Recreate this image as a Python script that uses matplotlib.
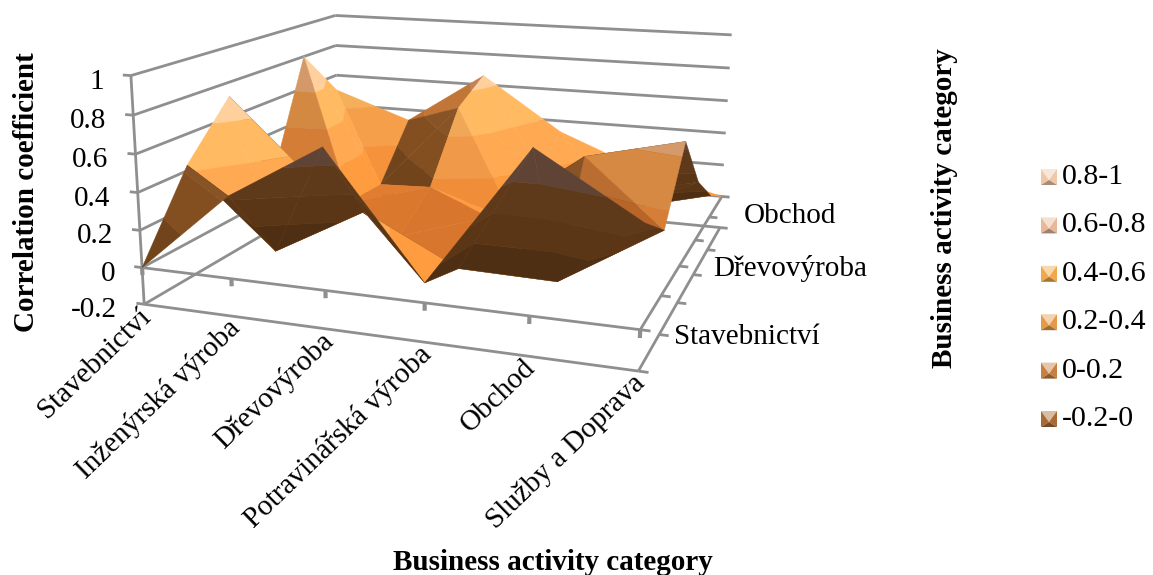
import numpy as np
import matplotlib
matplotlib.use("Agg")
import matplotlib.pyplot as plt
from matplotlib.colors import to_rgb
from matplotlib.patches import Polygon
from mpl_toolkits.mplot3d import proj3d
from mpl_toolkits.mplot3d.art3d import Poly3DCollection

plt.rcParams["font.family"] = ["Liberation Serif", "DejaVu Serif"]

categories = ["Stavebnictví", "Inženýrská výroba", "Dřevovýroba",
              "Potravinářská výroba", "Obchod", "Služby a Doprava"]
depth_labels = {0: "Stavebnictví", 2: "Dřevovýroba", 4: "Obchod"}

# one row per series, same order as categories
stavebnictvi = [0.00, 0.43, 0.72, 0.10, 0.80, 0.50]
inzenyrska   = [0.43, 0.00, 0.27, 0.02, 0.01, 0.33]
drevovyroba  = [0.72, 0.27, 0.00, 0.16, 0.54, 0.66]
potravinarska = [0.10, 0.02, 0.16, 0.00, 0.20, 0.33]
obchod       = [0.80, 0.01, 0.54, 0.20, 0.00, 0.13]
sluzby       = [0.50, 0.33, 0.66, 0.33, 0.13, 0.00]

z_ticks = [-0.2, 0, 0.2, 0.4, 0.6, 0.8, 1]
z_tick_labels = ["-0.2", "0", "0.2", "0.4", "0.6", "0.8", "1"]
band_labels = ["-0.2-0", "0-0.2", "0.2-0.4", "0.4-0.6", "0.6-0.8", "0.8-1"]

BAND_TOP   = ["#F89038", "#FF9C40", "#FFAA52", "#FFBA62", "#FFD09C", "#FFD8B0"]
BAND_UNDER = ["#4A2E14", "#4E2F13", "#5A3616", "#5E3A1A", "#5F4436", "#65493A"]
LEGEND_COLORS = ["#A86A34", "#C88040", "#E49A48", "#F0A848", "#E8B898", "#F0C8A8"]
GRID = "#8F8F8F"

# camera, in pixel-like units
FIG_W, FIG_H = 1153, 575
FOCAL_PX = 1342.5
CENTER_PX = (424, 203)
ELEV, AZIM, ROLL = 15.25, -69.57, 0
CAM_DIST = 1454
UNIT_X, UNIT_Y, UNIT_Z = 100.5, 96.2, 194.0
XLIM = (-0.608, 5.0)
YLIM = (-0.526, 5.0)
ZLIM = (-0.66, 1.0)
LIGHT = np.array([0.7, 0.1, 0.7])
LIGHT = LIGHT / np.linalg.norm(LIGHT)


def clip_band(tri, lo, hi):
    # cut a polygon down to the part between two heights
    poly = list(tri)
    for level, sign in ((lo, 1), (hi, -1)):
        out = []
        for a, b in zip(poly, poly[1:] + poly[:1]):
            da, db = sign * (a[2] - level), sign * (b[2] - level)
            if da >= 0:
                out.append(a)
            if da * db < 0:
                out.append(a + (b - a) * da / (da - db))
        poly = out
        if not poly:
            return []
    return poly


def facet_color(band, lit, underside):
    if underside:
        return to_rgb(BAND_UNDER[band])
    if lit < 0.06:
        # faces turned away from the light stay brown
        return tuple(min(1, c * 1.45) for c in to_rgb(BAND_UNDER[band]))
    k = min(1, 0.55 + 0.45 * (lit / 0.8) ** 1.2)
    r, g, b = to_rgb(BAND_TOP[band])
    return (min(1, r * k ** 0.6), g * k, b * k ** 1.3)


def build_facets(z):
    eye_dir = np.array([np.cos(np.radians(ELEV)) * np.cos(np.radians(AZIM)),
                        np.cos(np.radians(ELEV)) * np.sin(np.radians(AZIM)),
                        np.sin(np.radians(ELEV))])
    units = np.array([UNIT_X, UNIT_Y, UNIT_Z])
    polys, colors = [], []
    levels = z_ticks
    for j in range(z.shape[0] - 1):
        for i in range(z.shape[1] - 1):
            a = np.array([i, j, z[j, i]])
            b = np.array([i + 1, j, z[j, i + 1]])
            c = np.array([i + 1, j + 1, z[j + 1, i + 1]])
            d = np.array([i, j + 1, z[j + 1, i]])
            # each cell folds along the same diagonal
            for tri in ([a, b, d], [b, c, d]):
                n = np.cross((tri[1] - tri[0]) * units, (tri[2] - tri[0]) * units)
                n = n / np.linalg.norm(n)
                underside = n @ eye_dir < 0
                lit = n @ LIGHT
                for band in range(len(levels) - 1):
                    piece = clip_band(tri, levels[band], levels[band + 1])
                    if len(piece) < 3:
                        continue
                    polys.append(np.array(piece))
                    colors.append(facet_color(band, lit, underside))
    return polys, colors


def setup_axes(fig):
    ax = fig.add_subplot(projection="3d")
    ax.computed_zorder = False
    ax.set_axis_off()
    ax.set_xlim(*XLIM)
    ax.set_ylim(*YLIM)
    ax.set_zlim(*ZLIM)

    view = ax.viewLim
    side = 1100.0
    focal = FOCAL_PX / (side / view.width)
    ax.set_proj_type("persp", focal_length=focal)
    ax.view_init(ELEV, AZIM, ROLL)

    box = np.array([(XLIM[1] - XLIM[0]) * UNIT_X,
                    (YLIM[1] - YLIM[0]) * UNIT_Y,
                    (ZLIM[1] - ZLIM[0]) * UNIT_Z])
    world = 10 * focal / CAM_DIST
    zoom = world * np.linalg.norm(box) / (1.8294640721620434 * 25 / 24)
    ax.set_box_aspect(box, zoom=zoom)

    left = CENTER_PX[0] - side * (0 - view.x0) / view.width
    bottom = (FIG_H - CENTER_PX[1]) - side * (0 - view.y0) / view.height
    ax.set_position([left / FIG_W, bottom / FIG_H, side / FIG_W, side / FIG_H])
    return ax


def draw_frame(ax, n):
    last = n - 1
    kw = dict(color=GRID, lw=2.0, zorder=1, solid_capstyle="butt")
    for z in z_ticks:
        ax.plot([0, 0], [0, last], [z, z], **kw)
        ax.plot([0, last], [last, last], [z, z], **kw)
        ax.plot([-0.09, 0], [0, 0], [z, z], **kw)
    ax.plot([0, 0], [0, 0], [-0.2, 1], **kw)
    for z in (-0.2, 0):
        ax.plot([0, last], [0, 0], [z, z], **kw)
        ax.plot([last, last], [0, last], [z, z], **kw)
    tick_kw = dict(kw, lw=3.0)
    for i in range(n):
        ax.plot([i, i], [0, 0], [0, -0.04], **tick_kw)
    for j in range(n):
        for z in (-0.2, 0):
            ax.plot([last, last + 0.09], [j, j], [z, z], **kw)


def place_label(ax, x, y, z, label, offset, **kw):
    # 3D text always lies flat on screen, so anchor an annotation at the projected point
    u, v, _ = proj3d.proj_transform(x, y, z, ax.get_proj())
    ax.annotate(label, xy=(u, v), xytext=(offset[0] * 0.72, offset[1] * 0.72),
                textcoords="offset points", annotation_clip=False, zorder=5, **kw)


def draw_labels(ax):
    size = 21
    for z, label in zip(z_ticks, z_tick_labels):
        place_label(ax, 0, 0, z, label, (-27, -6), ha="right", va="center",
                    fontsize=size)
    for i, label in enumerate(categories):
        place_label(ax, i, 0, -0.2, label, (3, -8), ha="right", va="center",
                    rotation=44, rotation_mode="anchor", fontsize=size)
    for j, label in depth_labels.items():
        place_label(ax, 5, j, -0.2, label, (36, 34), ha="left", va="center",
                    fontsize=size)


def draw_legend(fig):
    over = fig.add_axes([0, 0, 1, 1])
    over.set_xlim(0, FIG_W)
    over.set_ylim(FIG_H, 0)
    over.axis("off")
    over.patch.set_alpha(0)
    y = 177.0
    for label, color in zip(band_labels[::-1], LEGEND_COLORS[::-1]):
        x0, x1 = 1041, 1057
        y0, y1 = y - 8, y + 8
        cx, cy = (x0 + x1) / 2, y + 3
        base = np.array(to_rgb(color))
        over.add_patch(Polygon([(x0, y0), (x1, y0), (cx, cy)],
                               color=base + (1 - base) * 0.55, lw=0))
        over.add_patch(Polygon([(x0, y0), (x0, y1), (cx, cy)], color=base, lw=0))
        over.add_patch(Polygon([(x1, y0), (x1, y1), (cx, cy)], color=base, lw=0))
        over.add_patch(Polygon([(x0, y1), (x1, y1), (cx, cy)],
                               color=base * 0.7, lw=0))
        over.text(1062, y, label, ha="left", va="center", fontsize=21.5)
        y += 48.4
    over.text(553, 562, "Business activity category", ha="center", va="center",
              fontsize=21, fontweight="bold")
    over.text(27, 192, "Correlation coefficient", ha="center", va="center",
              rotation=90, fontsize=21, fontweight="bold")
    over.text(944, 208, "Business activity category", ha="center", va="center",
              rotation=90, fontsize=21, fontweight="bold")


if __name__ == "__main__":
    corr = np.array([stavebnictvi, inzenyrska, drevovyroba,
                     potravinarska, obchod, sluzby])

    fig = plt.figure(figsize=(FIG_W / 100, FIG_H / 100), dpi=100)
    ax = setup_axes(fig)
    draw_frame(ax, len(categories))

    polys, colors = build_facets(corr)
    surface = Poly3DCollection(polys, facecolors=colors, edgecolors=colors,
                               linewidths=0.3, zorder=3)
    ax.add_collection3d(surface, autolim=False)

    draw_labels(ax)
    draw_legend(fig)
    fig.savefig("out.png", dpi=100)
